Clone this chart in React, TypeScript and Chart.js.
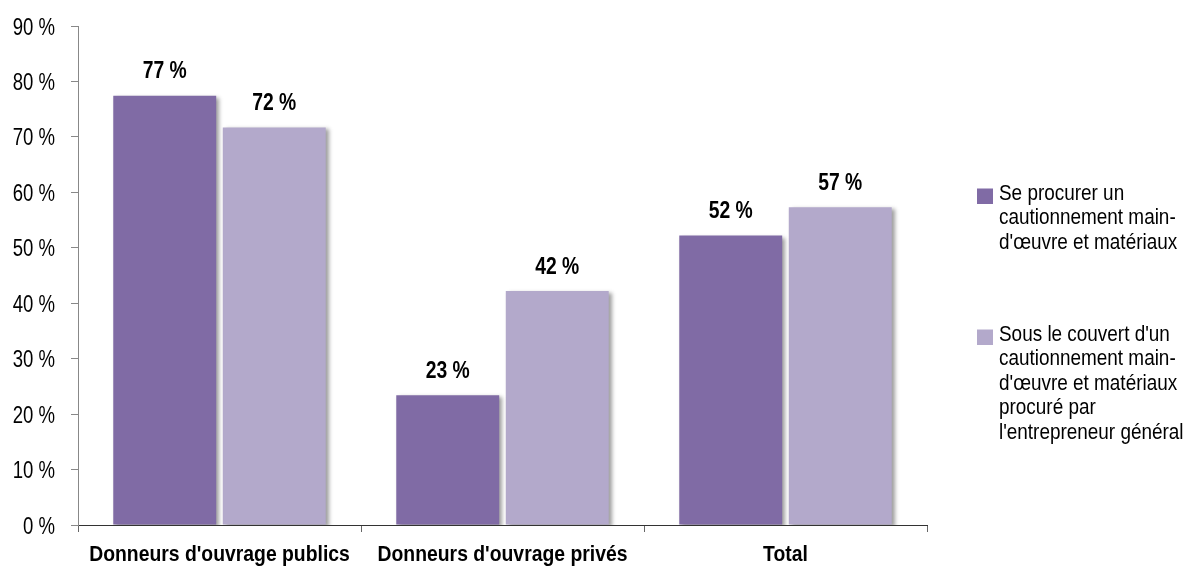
import React, { useEffect, useRef } from "react";
import { Chart, registerables } from "chart.js";

Chart.register(...registerables);

const categories = ["Donneurs d'ouvrage publics", "Donneurs d'ouvrage privés", "Total"];
const seriesLabels = [
  "Se procurer un cautionnement main-d'œuvre et matériaux",
  "Sous le couvert d'un cautionnement main-d'œuvre et matériaux procuré par l'entrepreneur général",
];
const legendLines = [
  ["Se procurer un", "cautionnement main-", "d'œuvre et matériaux"],
  ["Sous le couvert d'un", "cautionnement main-", "d'œuvre et matériaux", "procuré par", "l'entrepreneur général"],
];
const series1 = [77.4, 23.4, 52.2];
const series2 = [71.7, 42.2, 57.3];
const dataLabels1 = ["77 %", "23 %", "52 %"];
const dataLabels2 = ["72 %", "42 %", "57 %"];
const colors = ["#806ba5", "#b3a9cb"];

const FONT = "'Liberation Sans', Arial, sans-serif";

function narrowText(ctx: any, text: string, x: number, y: number, align: string, font: string, squeeze: number) {
  ctx.save();
  ctx.font = font;
  ctx.textAlign = align;
  ctx.textBaseline = "alphabetic";
  ctx.fillStyle = "#000";
  ctx.translate(x, y);
  ctx.scale(squeeze, 1);
  ctx.fillText(text, 0, 0);
  ctx.restore();
}

const shadowPlugin = {
  id: "barShadow",
  beforeDatasetsDraw(chart: any) {
    const ctx = chart.ctx;
    ctx.save();
    ctx.shadowColor = "rgba(0,0,0,0.38)";
    ctx.shadowBlur = 4;
    ctx.shadowOffsetX = 3;
    ctx.shadowOffsetY = 2;
  },
  afterDatasetsDraw(chart: any) {
    chart.ctx.restore();
  },
};

const textPlugin = {
  id: "narrowTexts",
  afterDraw(chart: any) {
    const ctx = chart.ctx;
    // value labels
    const allLabels = [dataLabels1, dataLabels2];
    chart.data.datasets.forEach((_ds: any, di: number) => {
      const meta = chart.getDatasetMeta(di);
      meta.data.forEach((el: any, i: number) => {
        narrowText(ctx, allLabels[di][i], el.x, el.y - 17.5, "center", `bold 23px ${FONT}`, 0.84);
      });
    });
    // y tick labels
    const ys = chart.scales.y;
    ys.ticks.forEach((t: any) => {
      const py = ys.getPixelForValue(t.value);
      narrowText(ctx, `${t.value} %`, ys.right - 23, py + 8.5, "right", `23.5px ${FONT}`, 0.79);
    });
    // x tick labels
    const xs = chart.scales.x;
    categories.forEach((c, i) => {
      const px = xs.getPixelForTick(i);
      narrowText(ctx, c, px, xs.top + 36, "center", `bold 22px ${FONT}`, 0.88);
    });
    // legend
    const area = chart.chartArea;
    const x0 = area.right + 50;
    const lineH = 24.4;
    const baselines = [200, 341];
    legendLines.forEach((lines, i) => {
      const b0 = baselines[i];
      ctx.save();
      ctx.fillStyle = colors[i];
      ctx.fillRect(x0, b0 - 11.5, 16, 15.5);
      ctx.restore();
      lines.forEach((ln, j) => {
        narrowText(ctx, ln, x0 + 22, b0 + j * lineH, "left", `22px ${FONT}`, 0.86);
      });
    });
  },
};

export default function App() {
  const ref = useRef<HTMLCanvasElement>(null);

  useEffect(() => {
    document.body.style.margin = "0";
    const chart = new Chart(ref.current!, {
      type: "bar",
      data: {
        labels: categories,
        datasets: [
          {
            label: seriesLabels[0],
            data: series1,
            backgroundColor: colors[0],
            categoryPercentage: 0.774,
            barPercentage: 0.94,
          },
          {
            label: seriesLabels[1],
            data: series2,
            backgroundColor: colors[1],
            categoryPercentage: 0.774,
            barPercentage: 0.94,
          },
        ],
      },
      options: {
        animation: false,
        responsive: true,
        maintainAspectRatio: false,
        layout: { padding: { top: 26, right: 263, left: 0, bottom: 0 } },
        plugins: {
          legend: { display: false },
          tooltip: { enabled: false },
        },
        scales: {
          x: {
            grid: {
              display: true,
              drawOnChartArea: false,
              drawTicks: true,
              tickLength: 7,
              color: "#666",
              offset: true,
            },
            border: { color: "#333", width: 1 },
            ticks: { display: false },
            afterFit: (s: any) => {
              s.height = 41;
            },
          },
          y: {
            min: 0,
            max: 90,
            ticks: {
              display: false,
              stepSize: 10,
            },
            grid: {
              display: true,
              drawOnChartArea: false,
              drawTicks: true,
              tickLength: 7,
              color: "#888",
            },
            border: { color: "#888", width: 1 },
            afterFit: (s: any) => {
              s.width = 78;
            },
          },
        },
      },
      plugins: [shadowPlugin, textPlugin],
    });
    return () => chart.destroy();
  }, []);

  return (
    <div style={{ position: "absolute", left: 0, top: 0, width: 1190, height: 566 }}>
      <canvas ref={ref} />
    </div>
  );
}
